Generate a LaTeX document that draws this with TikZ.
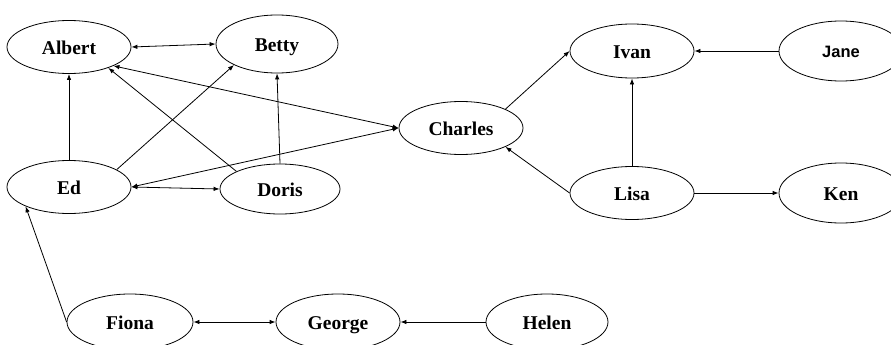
\documentclass[tikz,border=0pt]{standalone}
\usepackage{fontspec}
\setmainfont{Liberation Serif}
\newfontfamily\janefont{Liberation Sans}
\usetikzlibrary{arrows.meta,shapes.geometric}
\begin{document}
\begin{tikzpicture}[x=1pt,y=-1pt,
  person/.style={ellipse,draw,line width=0.8pt,inner sep=0pt,minimum width=124pt,minimum height=53pt,
    text height=16pt,text depth=1pt,
    font=\bfseries\fontsize{19.5}{21}\selectfont},
  tall/.style={minimum height=60pt},
  link/.style={line width=0.8pt,-{Latex[length=6pt,width=4.5pt]}},
  both/.style={line width=0.8pt,{Latex[length=6pt,width=4.5pt]}-{Latex[length=6pt,width=4.5pt]}}]
\useasboundingbox (0,0) rectangle (891,345);
\node[person] (albert) at (69,47) {Albert};
\node[person,minimum width=122pt,minimum height=58pt] (betty) at (277,44) {Betty};
\node[person] (charles) at (461,128) {Charles};
\node[person,minimum height=54pt] (ivan) at (632,51) {Ivan};
\node[person,tall,text height=13pt,font=\janefont\bfseries\fontsize{16.5}{18}\selectfont] (jane) at (841,51) {Jane};
\node[person] (ed) at (69,187) {Ed};
\node[person,minimum width=120pt,minimum height=50pt] (doris) at (280,189) {Doris};
\node[person] (lisa) at (632,193) {Lisa};
\node[person,tall] (ken) at (841,193) {Ken};
\node[person,minimum width=126pt,minimum height=56pt] (fiona) at (130,322) {Fiona};
\node[person,minimum height=56pt] (george) at (338,322) {George};
\node[person,minimum width=122pt,minimum height=56pt] (helen) at (547,322) {Helen};

\draw[both] (albert.east) -- (betty.west);
\draw[link] (ed.north) -- (albert.south);
\draw[link] (ed.20) -- (betty.206);
\draw[link] (doris.158) -- (albert.-28);
\draw[link] (doris.north) -- (betty.south);
\draw[both] (albert.-23) -- (charles.west);
\draw[both] (ed.east) -- (charles.west);
\draw[both] (ed.east) -- (doris.west);
\draw[link] (charles.23) -- (ivan.west);
\draw[link] (lisa.west) -- (charles.-23);
\draw[link] (lisa.north) -- (ivan.south);
\draw[link] (jane.west) -- (ivan.east);
\draw[link] (lisa.east) -- (ken.west);
\draw[both] (fiona.east) -- (george.west);
\draw[link] (helen.west) -- (george.east);
\draw[link] (fiona.west) -- (ed.204);
\end{tikzpicture}
\end{document}
